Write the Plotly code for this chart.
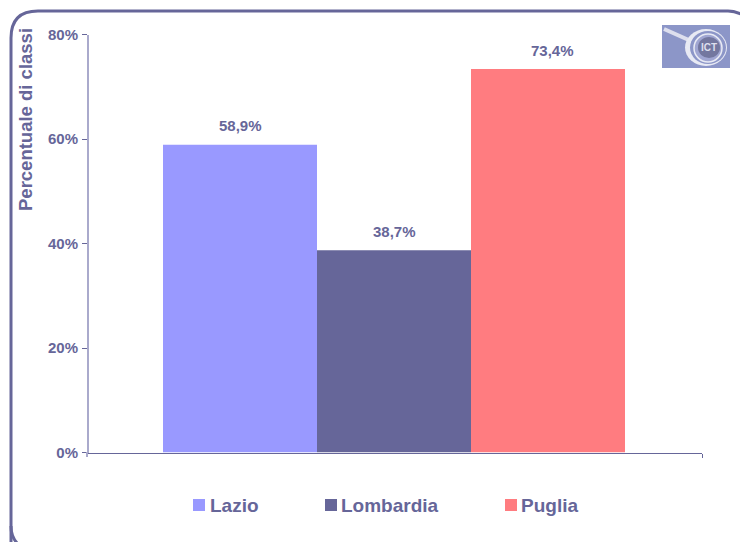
import plotly.graph_objects as go

regions = ["Lazio", "Lombardia", "Puglia"]
values = [58.9, 38.7, 73.4]
value_labels = ["58,9%", "38,7%", "73,4%"]
colors = ["#9999FF", "#666699", "#FF7C80"]
y_ticks = [0, 20, 40, 60, 80]

W, H = 740, 542
INK = "#666699"
FONT = "Liberation Sans, Arial, sans-serif"
px = lambda v: v / W
py = lambda v: 1 - v / H

fig = go.Figure()
for r, v, c in zip(regions, values, colors):
    fig.add_trace(go.Bar(name=r, x=[0], y=[v], marker=dict(color=c, line_width=0), showlegend=False))

annotations = []
offsets = [-1 / 4, 0, 1 / 4]
label_xshift = [0, 0, 4.5]
label_yshift = [19, 19, 18]
for off, v, t, xs, ys in zip(offsets, values, value_labels, label_xshift, label_yshift):
    annotations.append(dict(x=off, y=v, xref="x", yref="y", text=f"<b>{t}</b>", showarrow=False,
                            xshift=xs, yshift=ys, font=dict(family=FONT, size=15, color=INK)))

# axis title
annotations.append(dict(x=px(25), y=py(120), xref="paper", yref="paper", xanchor="center", yanchor="middle",
                        text="<b>Percentuale di classi</b>", textangle=-90, showarrow=False,
                        font=dict(family=FONT, size=18.5, color=INK)))

# legend
shapes = []
for r, c, sx, tx in zip(regions, colors, [193, 325, 505], [208, 339, 518.5]):
    shapes.append(dict(type="rect", xref="paper", yref="paper", x0=px(sx), x1=px(sx + 12),
                       y0=py(499), y1=py(511), fillcolor=c, line_width=0, layer="above"))
    annotations.append(dict(x=px(tx), y=py(505), xref="paper", yref="paper", xanchor="left", yanchor="middle",
                            text=f"<b>{r}</b>", showarrow=False, font=dict(family=FONT, size=19, color=INK)))

# outer frame
L, T, Rd = 11, 11, 27
shapes.append(dict(type="path", xref="paper", yref="paper",
                   path=f"M {px(L)},{py(560)} L {px(L)},{py(T + Rd)} Q {px(L)},{py(T)} {px(L + Rd)},{py(T)} "
                        f"L {px(728)},{py(T)} Q {px(736)},{py(T)} {px(745)},{py(T + 5)}",
                   line=dict(color=INK, width=3), layer="below"))
shapes.append(dict(type="path", xref="paper", yref="paper",
                   path=f"M {px(L)},{py(526)} Q {px(L)},{py(538)} {px(L + 8)},{py(545)}",
                   line=dict(color=INK, width=3), layer="below"))

# short stub of the value axis below the baseline
shapes.append(dict(type="line", xref="paper", yref="paper", x0=px(87), x1=px(87), y0=py(452), y1=py(457),
                   line=dict(color="#AAAACC", width=2), layer="above"))

# logo
shapes += [
    dict(type="rect", xref="paper", yref="paper", x0=px(662), x1=px(730), y0=py(25), y1=py(68),
         fillcolor="#8C96C8", line_width=0),
    dict(type="line", xref="paper", yref="paper", x0=px(664), y0=py(29), x1=px(691), y1=py(41),
         line=dict(color="#DDDFEE", width=4)),
    dict(type="circle", xref="paper", yref="paper", x0=px(685), x1=px(727), y0=py(29), y1=py(66),
         line_width=0, fillcolor="#E8EAF4"),
    dict(type="circle", xref="paper", yref="paper", x0=px(690), x1=px(726), y0=py(31), y1=py(64),
         line_width=0, fillcolor="#8C96C8"),
    dict(type="circle", xref="paper", yref="paper", x0=px(694), x1=px(722), y0=py(34), y1=py(62),
         line=dict(color="#E8EAF4", width=1.5), fillcolor="#A0A6D2"),
    dict(type="circle", xref="paper", yref="paper", x0=px(698), x1=px(720), y0=py(37), y1=py(58),
         line_width=0, fillcolor="#73779F"),
]
annotations.append(dict(x=px(709), y=py(47.5), xref="paper", yref="paper", xanchor="center", yanchor="middle",
                        text="<b>ICT</b>", showarrow=False, font=dict(family=FONT, size=10, color="#DDDFEE")))

fig.update_layout(
    width=W, height=H, autosize=False,
    margin=dict(l=0, r=0, t=0, b=0),
    paper_bgcolor="white", plot_bgcolor="white",
    barmode="group", bargap=0.25, bargroupgap=0,
    showlegend=False,
    font=dict(family=FONT, color=INK),
    shapes=shapes, annotations=annotations,
    xaxis=dict(domain=[px(86), px(702)], range=[-0.5, 0.5], tickmode="array", tickvals=[0.5],
               ticktext=[""], ticks="outside", ticklen=4, tickcolor=INK, tickwidth=1,
               showline=True, linecolor=INK, linewidth=1, showgrid=False, zeroline=False),
    yaxis=dict(domain=[py(452.5), py(34.5)], range=[0, 80], tickmode="array", tickvals=y_ticks,
               ticktext=[f"<b>{t}%</b>" for t in y_ticks], tickfont=dict(family=FONT, size=15, color=INK),
               ticks="outside", ticklen=5, tickcolor=INK, tickwidth=1, ticklabelstandoff=1,
               anchor="free", position=px(88),
               showline=True, linecolor="#AAAACC", linewidth=2, showgrid=False, zeroline=False,
               automargin=False),
)
fig.write_html("out.html", post_script="document.body.style.margin='0';",
               config={"displayModeBar": False})
